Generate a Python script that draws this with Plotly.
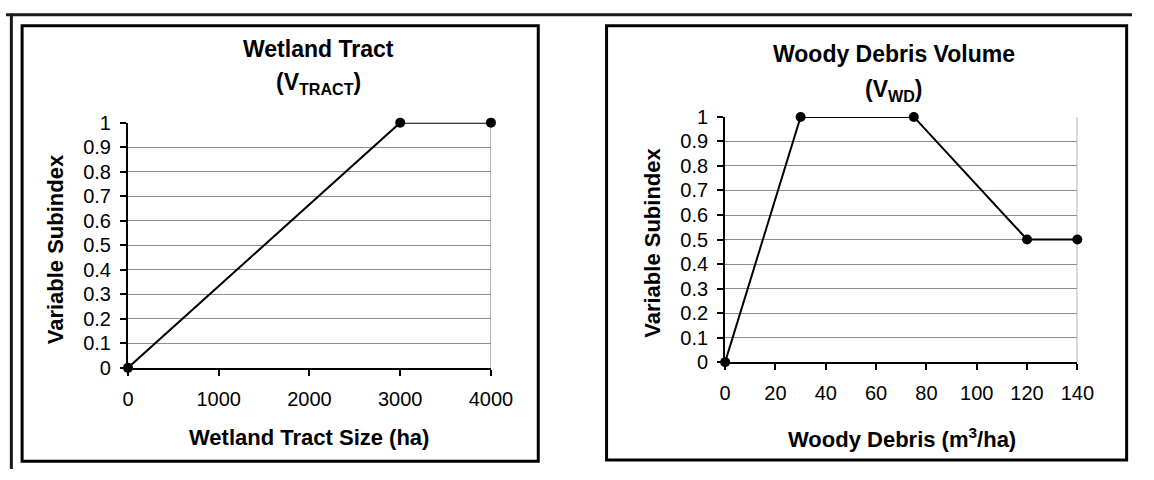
import plotly.graph_objects as go

# ---------------- data ----------------
tract_x = [0, 3000, 4000]
tract_y = [0, 1, 1]
tract_xticks = [0, 1000, 2000, 3000, 4000]

wd_x = [0, 30, 75, 120, 140]
wd_y = [0, 1, 1, 0.5, 0.5]
wd_xticks = [0, 20, 40, 60, 80, 100, 120, 140]

y_ticks = [0, 0.1, 0.2, 0.3, 0.4, 0.5, 0.6, 0.7, 0.8, 0.9, 1]
y_ticklabels = ["0", "0.1", "0.2", "0.3", "0.4", "0.5", "0.6", "0.7", "0.8", "0.9", "1"]

left_title = ["Wetland Tract", "(V<sub>TRACT</sub>)"]
right_title = ["Woody Debris Volume", "(V<sub>WD</sub>)"]
left_xtitle = "Wetland Tract Size (ha)"
right_xtitle = "Woody Debris (m<sup>3</sup>/ha)"
ytitle = "Variable Subindex"

# ---------------- layout helpers ----------------
W, H = 1154, 480
FONT = "Liberation Sans, Arial, sans-serif"


def px(x):
    return x / W


def py(y):
    return 1 - y / H


fig = go.Figure()

fig.add_trace(go.Scatter(x=tract_x, y=tract_y, mode="lines+markers",
                         line=dict(color="black", width=2),
                         marker=dict(color="black", size=10),
                         xaxis="x", yaxis="y", cliponaxis=False, showlegend=False))
fig.add_trace(go.Scatter(x=wd_x, y=wd_y, mode="lines+markers",
                         line=dict(color="black", width=2),
                         marker=dict(color="black", size=10),
                         xaxis="x2", yaxis="y2", cliponaxis=False, showlegend=False))

tickfont = dict(family=FONT, size=20, color="black")
grid = "#8c8c8c"

common_x = dict(showline=True, linecolor="black", linewidth=2, ticks="outside",
                ticklen=6, tickwidth=2, tickcolor="black", showgrid=False,
                zeroline=False, tickfont=tickfont, ticklabelstandoff=6,
                fixedrange=True)
common_y = dict(showline=True, linecolor="black", linewidth=2, ticks="outside",
                ticklen=6, tickwidth=2, tickcolor="black", showgrid=True,
                gridcolor=grid, gridwidth=1, zeroline=False, tickfont=tickfont,
                tickvals=y_ticks, ticktext=y_ticklabels, range=[0, 1],
                ticklabelstandoff=5, fixedrange=True)

fig.update_layout(
    width=W, height=H, autosize=False,
    margin=dict(l=0, r=0, t=0, b=0),
    paper_bgcolor="white", plot_bgcolor="white",
    font=dict(family=FONT, color="black"),
    xaxis=dict(common_x, domain=[px(125), px(497)], range=[tract_xticks[0], tract_xticks[-1]],
               tickvals=tract_xticks, anchor="y"),
    yaxis=dict(common_y, domain=[py(374), py(117)], anchor="x"),
    xaxis2=dict(common_x, domain=[px(737), px(1098)], range=[wd_xticks[0], wd_xticks[-1]],
                tickvals=wd_xticks, anchor="y2"),
    yaxis2=dict(common_y, domain=[py(368), py(111)], anchor="x2"),
)

shapes = []
# outer frame (top and left)
shapes.append(dict(type="line", xref="paper", yref="paper", x0=0, x1=1, y0=py(4), y1=py(4),
                   line=dict(color="#1a1a1a", width=3)))
shapes.append(dict(type="line", xref="paper", yref="paper", x0=px(5.5), x1=px(5.5), y0=0, y1=py(2.5),
                   line=dict(color="#1a1a1a", width=3)))
# chart boxes
shapes.append(dict(type="rect", xref="paper", yref="paper", x0=px(16.5), x1=px(545.5),
                   y0=py(472), y1=py(15.5), line=dict(color="black", width=3)))
shapes.append(dict(type="rect", xref="paper", yref="paper", x0=px(615.5), x1=px(1148.5),
                   y0=py(470.5), y1=py(15.5), line=dict(color="black", width=3)))
# gray plot-area borders (right side)
shapes.append(dict(type="line", xref="x", yref="y", x0=tract_xticks[-1], x1=tract_xticks[-1],
                   y0=y_ticks[0], y1=y_ticks[-1], line=dict(color="#a0a0a0", width=1.5), layer="below"))
shapes.append(dict(type="line", xref="x2", yref="y2", x0=wd_xticks[-1], x1=wd_xticks[-1],
                   y0=y_ticks[0], y1=y_ticks[-1], line=dict(color="#a0a0a0", width=1.5), layer="below"))
fig.update_layout(shapes=shapes)

bold = dict(family=FONT, size=23, color="black")
axt = dict(family=FONT, size=22, color="black")
ann = []
ann.append(dict(text="<b>%s</b>" % left_title[0], x=px(320), y=py(40), xref="paper", yref="paper",
                showarrow=False, font=bold, xanchor="center", yanchor="middle"))
ann.append(dict(text="<b>%s</b>" % left_title[1], x=px(320), y=py(76), xref="paper", yref="paper",
                showarrow=False, font=bold, xanchor="center", yanchor="middle"))
ann.append(dict(text="<b>%s</b>" % right_title[0], x=px(910), y=py(45), xref="paper", yref="paper",
                showarrow=False, font=bold, xanchor="center", yanchor="middle"))
ann.append(dict(text="<b>%s</b>" % right_title[1], x=px(910), y=py(83), xref="paper", yref="paper",
                showarrow=False, font=bold, xanchor="center", yanchor="middle"))
ann.append(dict(text="<b>%s</b>" % left_xtitle, x=px(311), y=py(447), xref="paper", yref="paper",
                showarrow=False, font=axt, xanchor="center", yanchor="middle"))
ann.append(dict(text="<b>%s</b>" % right_xtitle, x=px(918), y=py(447), xref="paper", yref="paper",
                showarrow=False, font=axt, xanchor="center", yanchor="middle"))
ann.append(dict(text="<b>%s</b>" % ytitle, x=px(51), y=py(250), xref="paper", yref="paper",
                showarrow=False, font=axt, xanchor="center", yanchor="middle", textangle=-90))
ann.append(dict(text="<b>%s</b>" % ytitle, x=px(663), y=py(243), xref="paper", yref="paper",
                showarrow=False, font=axt, xanchor="center", yanchor="middle", textangle=-90))
fig.update_layout(annotations=ann)

fig.write_html(
    "out.html",
    config={"displayModeBar": False, "staticPlot": True},
    post_script=("document.documentElement.style.margin='0px';"
                 "document.body.style.margin='0px';document.body.style.padding='0px';"
                 "document.documentElement.style.overflow='hidden';"
                 "document.body.style.overflow='hidden';"),
)
